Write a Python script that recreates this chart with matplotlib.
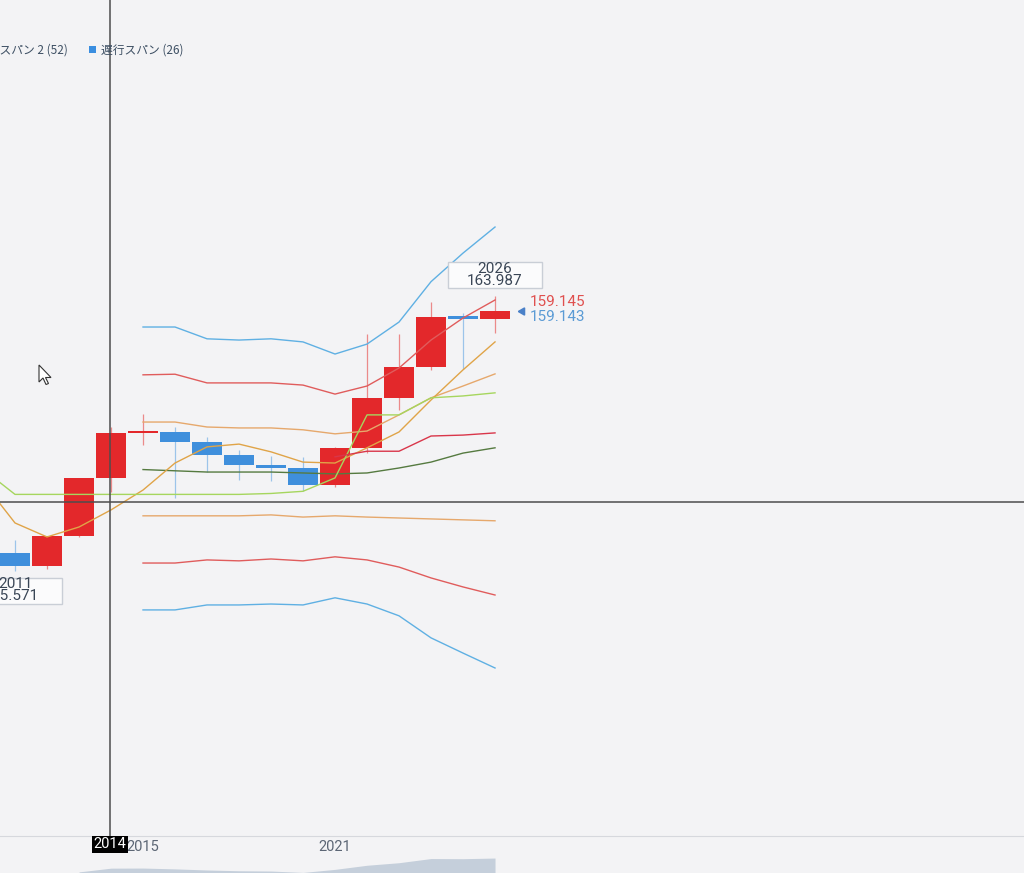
import matplotlib
matplotlib.use('Agg')
import matplotlib.pyplot as plt
from matplotlib.patches import Rectangle, Polygon
from matplotlib.transforms import IdentityTransform, ScaledTranslation

plt.rcParams['font.family'] = ['Roboto', 'Noto Sans CJK JP', 'DejaVu Sans']

# yearly candles
years = list(range(2011, 2027))
opens = [81.1, 76.9, 86.7, 105.3, 119.8, 120.2, 117.0, 112.7, 109.7, 108.6, 103.2, 115.1, 131.1, 141.0, 157.3, 156.6]
highs = [85.5, 86.8, 105.4, 121.8, 125.9, 121.7, 118.6, 114.5, 112.4, 112.2, 115.5, 151.9, 151.9, 162.0, 158.4, 163.987]
lows = [75.571, 76.2, 86.5, 100.8, 116.1, 99.0, 107.3, 104.6, 104.4, 101.2, 102.6, 113.5, 127.2, 140.3, 140.6, 152.2]
closes = [76.9, 86.7, 105.3, 119.8, 120.2, 117.0, 112.7, 109.7, 108.6, 103.2, 115.1, 131.1, 141.0, 157.2, 156.6, 159.145]

# bollinger bands
band_years = list(range(2015, 2027))
upper3 = [154.0, 154.0, 150.2, 149.8, 150.2, 149.2, 145.3, 148.5, 155.6, 168.6, 177.8, 186.2]
upper2 = [138.6, 138.8, 136.0, 136.0, 136.0, 135.3, 132.4, 135.0, 140.8, 149.8, 156.9, 162.7]
upper1 = [123.4, 123.4, 121.8, 121.5, 121.5, 120.9, 119.6, 120.5, 125.7, 131.2, 135.0, 138.9]
middle = [108.1, 107.7, 107.3, 107.3, 107.3, 107.0, 106.7, 107.0, 108.6, 110.5, 113.4, 115.1]
lower1 = [93.2, 93.2, 93.2, 93.2, 93.5, 92.8, 93.2, 92.8, 92.5, 92.2, 91.9, 91.6]
lower2 = [78.0, 78.0, 79.0, 78.7, 79.3, 78.7, 80.0, 79.0, 76.7, 73.2, 70.3, 67.7]
lower3 = [62.9, 62.9, 64.5, 64.5, 64.8, 64.5, 66.8, 64.8, 61.0, 53.9, 49.0, 44.2]

# ichimoku style lines
long_years = list(range(2010, 2027))
gold_line = [104.1, 90.9, 86.4, 89.6, 95.1, 101.5, 110.2, 115.4, 116.3, 113.8, 110.5, 110.2, 115.1, 120.2, 130.5, 140.2, 149.2]
green_line = [108.2, 100.1, 100.1, 100.1, 100.1, 100.1, 100.1, 100.1, 100.1, 100.4, 101.1, 105.4, 125.7, 125.7, 131.2, 131.8, 132.8]
red_years = list(range(2021, 2027))
red_line = [112.2, 114.0, 114.0, 118.9, 119.2, 119.9]

cross_x = 2013.97
cross_y = 97.7
last_price = 159.145
bid_price = 159.143

bg = '#f3f3f5'
up_col = '#e3282b'
down_col = '#3f8fdc'

W, H = 1024, 873
fig = plt.figure(figsize=(W / 100, H / 100), dpi=100)
fig.patch.set_facecolor(bg)
ax = fig.add_axes([0, 37 / H, 1, 836 / H])
ax.set_facecolor(bg)
ax.set_xlim(2010.531, 2042.53)
ax.set_ylim(-9.9, 259.3)

# candles
for yr, o, h, l, c in zip(years, opens, highs, lows, closes):
    col = up_col if c >= o else down_col
    wick = '#eb8a8a' if c >= o else '#9cc4ea'
    ax.vlines(yr, l, h, color=wick, lw=0.9, zorder=2)
    ax.bar(yr, max(abs(c - o), 0.8), bottom=min(o, c), width=0.95, color=col, zorder=2.5)

ax.plot(band_years, upper3, color='#5fb0e3', lw=1.0, zorder=3)
ax.plot(band_years, lower3, color='#5fb0e3', lw=1.0, zorder=3)
ax.plot(band_years, upper2, color='#e05c5c', lw=1.0, zorder=3)
ax.plot(band_years, lower2, color='#e05c5c', lw=1.0, zorder=3)
ax.plot(band_years, upper1, color='#e6a86c', lw=1.0, zorder=3)
ax.plot(band_years, lower1, color='#e6a86c', lw=1.0, zorder=3)
ax.plot(band_years, middle, color='#557a40', lw=1.0, zorder=3)
ax.plot(long_years, gold_line, color='#e0a448', lw=1.0, zorder=3)
ax.plot(long_years, green_line, color='#a6d65e', lw=1.0, zorder=3)
ax.plot(red_years, red_line, color='#d9364a', lw=1.0, zorder=3)

# crosshair
ax.axvline(cross_x, color='#4d4d4d', lw=1.1, zorder=5)
ax.axhline(cross_y, color='#4d4d4d', lw=1.1, zorder=5)

for s in ['top', 'left', 'right']:
    ax.spines[s].set_visible(False)
ax.spines['bottom'].set_color('#d6d8dd')
ax.set_yticks([])
ax.set_xticks([2015, 2021])
ax.set_xticklabels(['2015', '2021'])
ax.tick_params(axis='x', length=0, pad=3, labelsize=10.5, labelcolor='#5c6675')

ax.annotate('2014', xy=(cross_x, 0), xycoords=('data', 'axes fraction'),
            xytext=(0, -1.5), textcoords='offset pixels', ha='center', va='top',
            color='white', fontsize=10.5, zorder=10,
            bbox=dict(boxstyle='square,pad=0.12', fc='black', ec='none'))


def marker_box(yr, price, dy_box, dy1, dy2, line1, line2):
    px, py = ax.transData.transform((yr, price))
    rect = Rectangle((px - 47, py + dy_box - 13), 94, 26, transform=IdentityTransform(),
                     fc='#fbfbfc', ec='#c9ced6', lw=1.0, zorder=6, clip_on=False)
    ax.add_patch(rect)
    ax.annotate(line1, xy=(yr, price), xytext=(0, dy1), textcoords='offset pixels',
                ha='center', va='center', fontsize=11, color='#3a4656', zorder=7)
    ax.annotate(line2, xy=(yr, price), xytext=(0, dy2), textcoords='offset pixels',
                ha='center', va='center', fontsize=11, color='#3a4656', zorder=7)


marker_box(years[-1], highs[-1], 21, 27, 15, '2026', f'{highs[-1]:.3f}')
marker_box(years[0], lows[0], -20, -13.5, -25.5, '2011', f'{lows[0]:.3f}')

# last price labels
ax.plot([years[-1]], [last_price], marker=(3, 0, 90), markersize=6, color='#4a80c8',
        transform=ax.transData + ScaledTranslation(27 / 100, 0, fig.dpi_scale_trans),
        zorder=6)
ax.annotate(f'{last_price:.3f}', xy=(years[-1], last_price), xytext=(35, 9),
            textcoords='offset pixels', ha='left', va='center', fontsize=11, color='#e0504f')
ax.annotate(f'{bid_price:.3f}', xy=(years[-1], last_price), xytext=(35, -6),
            textcoords='offset pixels', ha='left', va='center', fontsize=11, color='#5b9bd5')

# legend (cut at the left edge)
fig.text(-24 / W, 1 - 50 / H, '先行スパン 2 (52)', fontsize=8.5, color='#3d4f63',
         family=['Noto Sans CJK JP', 'DejaVu Sans'], ha='left', va='center')
fig.add_artist(Rectangle((89, H - 53), 7, 7, transform=IdentityTransform(), fc='#3a8ee0', ec='none'))
fig.text(101 / W, 1 - 50 / H, '遅行スパン (26)', fontsize=8.5, color='#3d4f63',
         family=['Noto Sans CJK JP', 'DejaVu Sans'], ha='left', va='center')

# navigator
nav = fig.add_axes([0, 0, 1, 18 / H])
nav.set_xlim(ax.get_xlim())
nav.set_ylim(101, 171)
nav.axis('off')
nav.fill_between(years[2:], closes[2:], 101, color='#c5cfdb', lw=0)

# mouse pointer
arrow = [(0, 0), (0, 17), (4, 13), (7, 19.5), (9.5, 18.5), (6.5, 12.5), (12, 12.5)]
fig.add_artist(Polygon([(39 + dx, H - (365 + dy)) for dx, dy in arrow], closed=True,
                       transform=IdentityTransform(), fc='white', ec='#333333', lw=0.8, zorder=20))

fig.savefig('out.png', dpi=100, facecolor=bg)
